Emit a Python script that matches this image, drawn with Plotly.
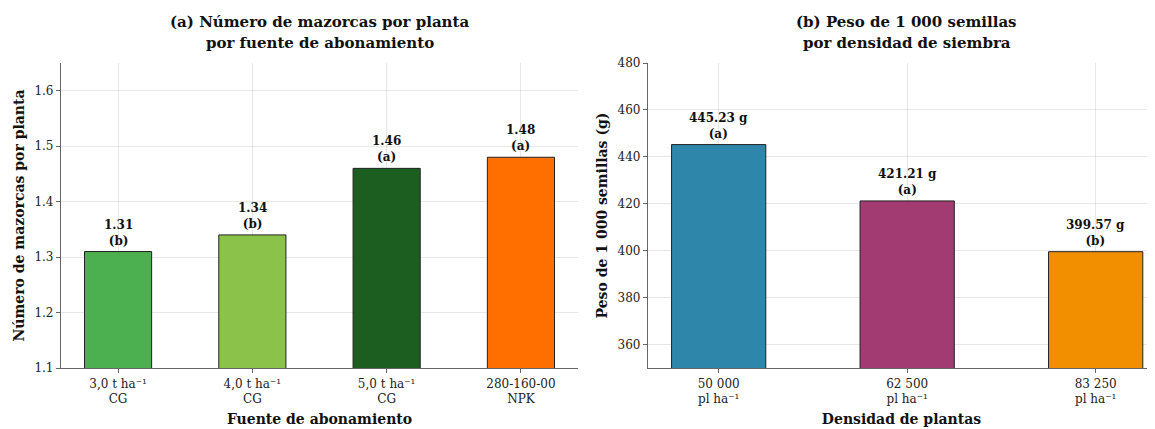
import plotly.graph_objects as go

# Panel (a)
cat_a = ["3,0 t ha⁻¹<br>CG", "4,0 t ha⁻¹<br>CG", "5,0 t ha⁻¹<br>CG", "280-160-00<br>NPK"]
val_a = [1.31, 1.34, 1.46, 1.48]
grp_a = ["b", "b", "a", "a"]
col_a = ["#4CAF50", "#8BC34A", "#1B5E20", "#FF6F00"]
title_a = ["(a) Número de mazorcas por planta", "por fuente de abonamiento"]

# Panel (b)
cat_b = ["50 000<br>pl ha⁻¹", "62 500<br>pl ha⁻¹", "83 250<br>pl ha⁻¹"]
val_b = [445.23, 421.21, 399.57]
grp_b = ["a", "a", "b"]
col_b = ["#2E86AB", "#A23B72", "#F18F01"]
title_b = ["(b) Peso de 1 000 semillas", "por densidad de siembra"]

FONT = "DejaVu Serif"
OFF = 8  # default page body margin
W, H = 1155 - OFF, 429 - OFF


def px(xs):
    return (xs - OFF) / W


def py(ys):
    return 1 - (ys - OFF) / H


fig = go.Figure()
fig.add_trace(go.Bar(x=list(range(len(cat_a))), y=val_a, width=0.5,
                     marker=dict(color=col_a, line=dict(color="#222", width=1)),
                     xaxis="x", yaxis="y", showlegend=False, hoverinfo="skip"))
fig.add_trace(go.Bar(x=list(range(len(cat_b))), y=val_b, width=0.5,
                     marker=dict(color=col_b, line=dict(color="#222", width=1)),
                     xaxis="x2", yaxis="y2", showlegend=False, hoverinfo="skip"))

ann = []
for i, (v, g) in enumerate(zip(val_a, grp_a)):
    ann.append(dict(x=i, y=v, xref="x", yref="y", text=f"<b>{v:.2f}<br>({g})</b>",
                    showarrow=False, yanchor="bottom", yshift=2,
                    font=dict(family=FONT, size=12, color="#111")))
for i, (v, g) in enumerate(zip(val_b, grp_b)):
    ann.append(dict(x=i, y=v, xref="x2", yref="y2", text=f"<b>{v:.2f} g<br>({g})</b>",
                    showarrow=False, yanchor="bottom", yshift=2,
                    font=dict(family=FONT, size=12, color="#111")))

# titles centered over each axes, one annotation per line
for xc, lines in [((61 + 578) / 2, title_a), ((648 + 1165) / 2, title_b)]:
    for yc, line in zip([22, 43], lines):
        ann.append(dict(x=px(xc), y=py(yc), xref="paper", yref="paper",
                        text=f"<b>{line}</b>", showarrow=False,
                        yanchor="middle", xanchor="center",
                        font=dict(family=FONT, size=15, color="#111")))

grid = "rgba(176,176,176,0.3)"
spine = "#666"
common = dict(showline=True, linecolor=spine, linewidth=1.2, ticks="outside",
              ticklen=4, tickcolor=spine, showgrid=True, gridcolor=grid, gridwidth=1,
              zeroline=False, layer="above traces", automargin=False,
              tickfont=dict(family=FONT, size=12, color="#222"))

ydom = [py(368), py(63)]
fig.update_layout(
    width=W, height=H, margin=dict(l=0, r=0, t=0, b=0, autoexpand=False),
    paper_bgcolor="white", plot_bgcolor="white",
    font=dict(family=FONT, color="#222"),
    xaxis=dict(domain=[px(61), px(578)], range=[-0.425, 3.425],
               tickvals=list(range(len(cat_a))), ticktext=cat_a,
               title=dict(text="<b>Fuente de abonamiento</b>", standoff=9,
                          font=dict(family=FONT, size=14, color="#111")),
               **common),
    yaxis=dict(domain=ydom, range=[1.1, 1.65], tickvals=[1.1, 1.2, 1.3, 1.4, 1.5, 1.6],
               ticktext=["1.1", "1.2", "1.3", "1.4", "1.5", "1.6"],
               title=dict(text="<b>Número de mazorcas por planta</b>", standoff=6,
                          font=dict(family=FONT, size=14, color="#111")),
               **common),
    xaxis2=dict(domain=[px(648), 1.0], range=[-0.375, -0.375 + (1155 - 648) / 188.5],
                tickvals=list(range(len(cat_b))), ticktext=cat_b, anchor="y2",
                title=dict(text="<b>Densidad de plantas</b>", standoff=9,
                           font=dict(family=FONT, size=14, color="#111")),
                **common),
    yaxis2=dict(domain=ydom, range=[350, 480], tickvals=[360, 380, 400, 420, 440, 460, 480],
                anchor="x2",
                title=dict(text="<b>Peso de 1 000 semillas (g)</b>", standoff=6,
                           font=dict(family=FONT, size=14, color="#111")),
                **common),
    annotations=ann,
)

fig.write_html("out.html")
